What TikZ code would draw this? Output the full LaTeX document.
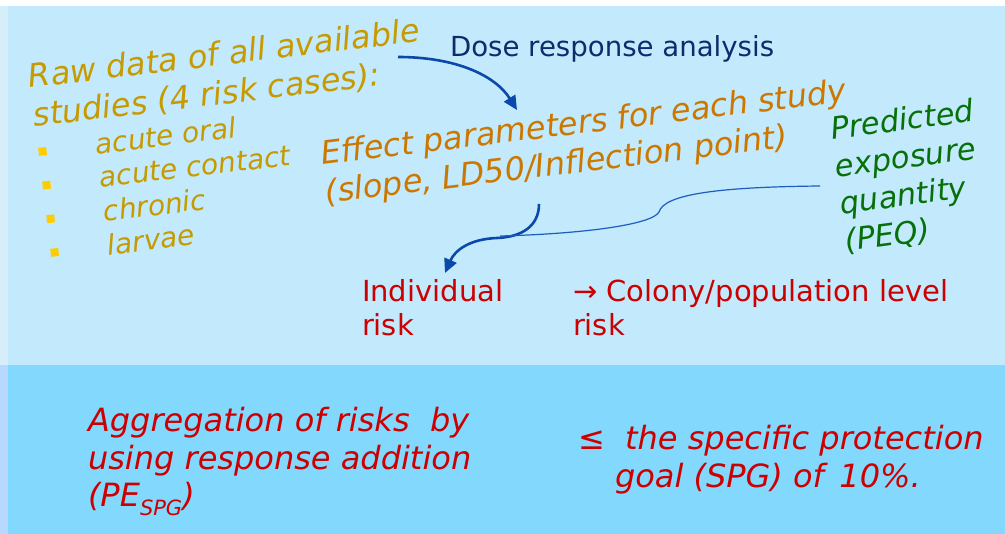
\documentclass[tikz,border=0pt]{standalone}
\usepackage{fontspec}
\setmainfont{DejaVu Sans}
\usetikzlibrary{arrows.meta}

\definecolor{panelTop}{RGB}{194,234,252}
\definecolor{panelBot}{RGB}{130,216,253}
\definecolor{stripTop}{RGB}{214,238,250}
\definecolor{stripBot}{RGB}{184,216,254}
\definecolor{gold}{RGB}{198,154,0}
\definecolor{amber}{RGB}{204,120,0}
\definecolor{bulletc}{RGB}{255,204,0}
\definecolor{navy}{RGB}{14,44,108}
\definecolor{arrowblue}{RGB}{10,72,172}
\definecolor{linkblue}{RGB}{30,92,192}
\definecolor{leafgreen}{RGB}{8,112,8}
\definecolor{riskred}{RGB}{204,0,0}

\newcommand\fBig{\fontsize{32}{39}\selectfont\itshape}
\newcommand\fItem{\fontsize{28}{34}\selectfont\itshape}
\newcommand\fPeq{\fontsize{30.5}{37}\selectfont\itshape}
\newcommand\fDose{\fontsize{27.6}{33}\selectfont}
\newcommand\fRisk{\fontsize{29}{34}\selectfont}
\newcommand\fAgg{\fontsize{32}{38}\selectfont\itshape}

\begin{document}
\begin{tikzpicture}[x=1pt,y=1pt,
  txt/.style={inner sep=0pt, outer sep=0pt, anchor=base west},
  sq/.style={fill=bulletc, minimum size=8pt, inner sep=0pt, outer sep=0pt},
  flow/.style={draw=arrowblue, line width=2.6pt, -{Triangle[length=14pt,width=13pt]}},
  link/.style={draw=linkblue, line width=1.2pt}]

% panels
\fill[white] (0,0) rectangle (1005,-534);
\fill[panelTop] (0,-6) rectangle (1005,-365);
\fill[stripTop] (0,-6) rectangle (8,-365);
\fill[panelBot] (0,-365) rectangle (1005,-534);
\fill[stripBot] (0,-365) rectangle (8,-534);

% raw data and the four risk cases
\begin{scope}[shift={(30,-88)}, rotate=6.8, transform shape]
  \node[txt, gold, font=\fBig] (raw1) at (0,0) {Raw data of all available};
  \node[txt, gold, font=\fBig] (raw2) at (0,-39) {studies (4 risk cases):};
  \node[txt, gold, font=\fItem] (case1) at (58.5,-73.5) {acute oral};
  \node[txt, gold, font=\fItem] (case2) at (58.5,-107.4) {acute contact};
  \node[txt, gold, font=\fItem] (case3) at (58.5,-141.3) {chronic};
  \node[txt, gold, font=\fItem] (case4) at (58.5,-175.2) {larvae};
  \node[sq] (dot1) at (5,-64.5) {};
  \node[sq] (dot2) at (5,-98.4) {};
  \node[sq] (dot3) at (5,-132.3) {};
  \node[sq] (dot4) at (5,-166.2) {};
\end{scope}

% effect parameters
\begin{scope}[shift={(322,-165)}, rotate=6.9, transform shape]
  \node[txt, amber, font=\fBig] (eff1) at (0,0) {Effect parameters for each study};
  \node[txt, amber, font=\fBig] (eff2) at (0,-38.5) {(slope, LD50/Inflection point)};
\end{scope}

% predicted exposure quantity
\begin{scope}[shift={(832,-140)}, rotate=7.5, transform shape]
  \node[txt, leafgreen, font=\fPeq] (peq1) at (0,0) {Predicted};
  \node[txt, leafgreen, font=\fPeq] (peq2) at (0,-37.5) {exposure};
  \node[txt, leafgreen, font=\fPeq] (peq3) at (0,-75) {quantity};
  \node[txt, leafgreen, font=\fPeq] (peq4) at (0,-112.5) {(PEQ)};
\end{scope}

\node[txt, navy, font=\fDose] (dose) at (450,-57) {Dose response analysis};

% risk levels
\node[txt, riskred, font=\fRisk] (ind1) at (362,-302) {Individual};
\node[txt, riskred, font=\fRisk] (ind2) at (362,-336) {risk};
\node[txt, riskred, font=\fRisk] (col1) at (573,-302) {→ Colony/population level};
\node[txt, riskred, font=\fRisk] (col2) at (573,-336) {risk};

% aggregation
\node[txt, riskred, font=\fAgg] (agg1) at (88,-432) {Aggregation of risks \ by};
\node[txt, riskred, font=\fAgg] (agg2) at (88,-470) {using response addition};
\node[txt, riskred, font=\fAgg] (agg3) at (88,-507)
  {(PE\raisebox{-0.26em}{\fontsize{21}{21}\selectfont SPG})};
\node[txt, riskred, font=\fAgg] (spg1) at (578,-450) {≤ \ the specific protection};
\node[txt, riskred, font=\fAgg] (spg2) at (615,-488) {goal (SPG) of \,10\%.};

% connectors
\coordinate (d1) at (398,-57);
\coordinate (d2) at (517,-110);
\draw[flow] (d1) .. controls (455,-57) and (495,-75) .. (d2);

\coordinate (e1) at (539,-204);
\coordinate (mrg) at (497,-238);
\coordinate (e2) at (445,-273);
\draw[flow] (e1) .. controls (539,-226) and (522,-237) .. (mrg)
  .. controls (470,-239) and (455,-250) .. (e2);

\coordinate (p1) at (820,-186);
\coordinate (cusp) at (659,-212);
\coordinate (p2) at (500,-236);
\draw[link] (p1) .. controls (720,-187) and (664,-194) .. (cusp)
  .. controls (652,-225) and (580,-234) .. (p2);
\end{tikzpicture}
\end{document}
